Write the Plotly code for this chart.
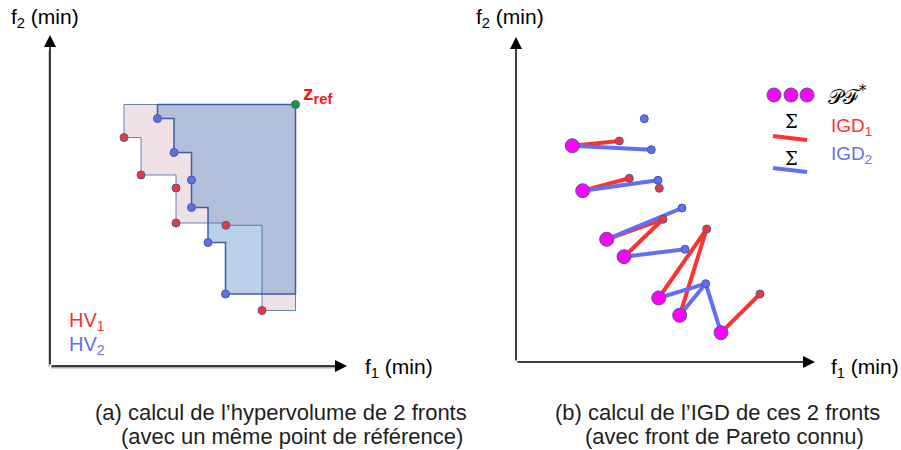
import plotly.graph_objects as go

# ---------------- data (units: arbitrary objective units) ----------------
# Panel (a): two fronts and the common reference point
hv1_f1 = [7.4, 9.1, 12.6, 12.6, 17.6, 21.2]
hv1_f2 = [22.85, 19.1, 17.8, 14.3, 14.07, 5.55]
hv2_f1 = [10.75, 12.4, 14.15, 14.15, 15.8, 17.55]
hv2_f2 = [24.75, 21.35, 18.6, 15.85, 12.35, 7.2]
zref_f1 = [24.55]
zref_f2 = [26.15]

# Panel (b): known Pareto front and the two fronts
pf_f1 = [5.63, 6.67, 9.07, 10.8, 14.27, 16.37, 20.5]
pf_f2 = [21.63, 17.13, 12.27, 10.53, 6.4, 4.67, 2.93]
f1_f1 = [10.33, 11.33, 14.33, 14.7, 19.07, 24.4]
f1_f2 = [22.1, 18.37, 17.37, 14.27, 13.3, 6.8]
f2_f1 = [12.83, 13.53, 14.2, 16.6, 16.9, 18.97]
f2_f2 = [24.33, 21.23, 18.17, 15.4, 11.27, 7.83]
# index of the front point linked to each Pareto point
red_link = [0, 1, 3, 3, 4, 4, 5]
blue_link = [1, 2, 3, 4, 5, 5, 5]

RED = "rgb(240,55,55)"
BLUE = "rgb(95,110,235)"
EDGE = "rgb(70,90,160)"
FONT = "Liberation Sans, Arial, sans-serif"


def nondominated(xs, ys):
    pts = list(zip(xs, ys))
    keep = []
    for i, (x, y) in enumerate(pts):
        dom = False
        for j, (u, v) in enumerate(pts):
            if j != i and u <= x and v <= y and (u < x or v < y):
                dom = True
        if not dom:
            keep.append((x, y))
    return sorted(keep)


def staircase(xs, ys, rx, ry):
    nd = nondominated(xs, ys)
    px, py = [nd[0][0]], [ry]
    for k, (x, y) in enumerate(nd):
        px.append(x)
        py.append(y)
        nx = nd[k + 1][0] if k + 1 < len(nd) else rx
        px.append(nx)
        py.append(y)
    px += [rx, nd[0][0]]
    py += [ry, ry]
    return px, py


fig = go.Figure()

# ---- panel (a) ----
p1x, p1y = staircase(hv1_f1, hv1_f2, zref_f1[0], zref_f2[0])
p2x, p2y = staircase(hv2_f1, hv2_f2, zref_f1[0], zref_f2[0])
fig.add_trace(go.Scatter(x=p1x, y=p1y, fill="toself", fillcolor="rgb(240,225,230)",
                         mode="none", xaxis="x", yaxis="y", hoverinfo="skip"))
fig.add_trace(go.Scatter(x=p2x, y=p2y, fill="toself", fillcolor="rgba(100,150,205,0.45)",
                         mode="none", xaxis="x", yaxis="y", hoverinfo="skip"))
fig.add_trace(go.Scatter(x=p1x, y=p1y, mode="lines", line=dict(color="rgba(60,95,160,0.75)", width=1),
                         xaxis="x", yaxis="y", hoverinfo="skip"))
fig.add_trace(go.Scatter(x=p2x, y=p2y, mode="lines", line=dict(color="rgb(60,95,160)", width=1.5),
                         xaxis="x", yaxis="y", hoverinfo="skip"))
fig.add_trace(go.Scatter(x=hv1_f1, y=hv1_f2, mode="markers",
                         marker=dict(size=8, color=RED, line=dict(color=EDGE, width=1)),
                         xaxis="x", yaxis="y"))
fig.add_trace(go.Scatter(x=hv2_f1, y=hv2_f2, mode="markers",
                         marker=dict(size=8, color=BLUE, line=dict(color=EDGE, width=1)),
                         xaxis="x", yaxis="y"))
fig.add_trace(go.Scatter(x=zref_f1, y=zref_f2, mode="markers",
                         marker=dict(size=8, color="rgb(30,150,60)", line=dict(color=EDGE, width=1)),
                         xaxis="x", yaxis="y"))

# ---- panel (b) ----
rx, ry, bx, by = [], [], [], []
for i in range(len(pf_f1)):
    r = red_link[i]
    rx += [pf_f1[i], f1_f1[r], None]
    ry += [pf_f2[i], f1_f2[r], None]
    b = blue_link[i]
    bx += [pf_f1[i], f2_f1[b], None]
    by += [pf_f2[i], f2_f2[b], None]
fig.add_trace(go.Scatter(x=rx, y=ry, mode="lines", line=dict(color="rgb(250,50,50)", width=4),
                         xaxis="x2", yaxis="y2", hoverinfo="skip"))
fig.add_trace(go.Scatter(x=bx, y=by, mode="lines", line=dict(color="rgb(100,110,240)", width=4),
                         xaxis="x2", yaxis="y2", hoverinfo="skip"))
fig.add_trace(go.Scatter(x=f1_f1, y=f1_f2, mode="markers",
                         marker=dict(size=8, color=RED, line=dict(color=EDGE, width=1)),
                         xaxis="x2", yaxis="y2"))
fig.add_trace(go.Scatter(x=f2_f1, y=f2_f2, mode="markers",
                         marker=dict(size=8, color=BLUE, line=dict(color=EDGE, width=1)),
                         xaxis="x2", yaxis="y2"))
fig.add_trace(go.Scatter(x=pf_f1, y=pf_f2, mode="markers",
                         marker=dict(size=14, color="rgb(255,0,255)", line=dict(color=EDGE, width=1)),
                         xaxis="x2", yaxis="y2"))

W, H = 901, 450
ax_common = dict(visible=False, showgrid=False, zeroline=False, fixedrange=True)
layout = dict(
    width=W, height=H, margin=dict(l=0, r=0, t=0, b=0),
    paper_bgcolor="white", plot_bgcolor="white", showlegend=False,
    xaxis=dict(domain=[0, 450 / W], range=[-5.0, 40.0], **ax_common),
    yaxis=dict(domain=[0, 1], range=[-8.4, 36.6], **ax_common),
    xaxis2=dict(domain=[450 / W, 1], range=[-6.6, 38.5], **ax_common),
    yaxis2=dict(domain=[0, 1], range=[-8.8, 36.2], **ax_common, anchor="x2"),
)
fig.update_layout(**layout)
fig.update_layout(xaxis2_anchor="y2")

shapes = []
# soft gray shadow along the axes of panel (a)
shapes.append(dict(type="line", xref="x", yref="y", x0=0.1, y0=-0.15, x1=29.0, y1=-0.15,
                   line=dict(color="rgba(120,120,120,0.6)", width=2), layer="below"))
shapes.append(dict(type="line", xref="x", yref="y", x0=-0.1, y0=-0.1, x1=-0.1, y1=31.5,
                   line=dict(color="rgba(120,120,120,0.35)", width=2), layer="below"))

ann = []
# axis arrows
def arrow(xr, yr, x, y, ax, ay):
    ann.append(dict(x=x, y=y, ax=ax, ay=ay, xref=xr, yref=yr, axref=xr, ayref=yr,
                    text="", showarrow=True, arrowhead=2, arrowsize=1.6, arrowwidth=1.5,
                    arrowcolor="black"))

arrow("x", "y", 0, 33.1, 0, 0)
arrow("x", "y", 29.7, 0, 0, 0)
arrow("x2", "y2", 0, 32.5, 0, 0)
arrow("x2", "y2", 29.9, 0, 0, 0)


def txt(x, y, s, size, color="black", xanchor="left", family=FONT):
    ann.append(dict(x=x / W, y=1 - y / H, xref="paper", yref="paper", text=s,
                    showarrow=False, xanchor=xanchor, yanchor="middle",
                    font=dict(size=size, color=color, family=family)))

txt(45, 18, "f<sub>2</sub> (min)", 21, xanchor="center")
txt(363, 368, "f<sub>1</sub> (min)", 21)
txt(510, 18, "f<sub>2</sub> (min)", 21, xanchor="center")
txt(829, 368, "f<sub>1</sub> (min)", 21)
txt(301, 94, "<b>z<sub>ref</sub></b>", 21, color="rgb(250,20,20)")
txt(67, 321, "HV<sub>1</sub>", 20, color="rgb(250,50,50)")
txt(67, 345, "HV<sub>2</sub>", 20, color="rgb(100,110,240)")
txt(93, 412, "(a) calcul de l’hypervolume de 2 fronts", 22, color="rgb(30,30,30)")
txt(119, 436, "(avec un même point de référence)", 22, color="rgb(30,30,30)")
txt(553, 412, "(b) calcul de l’IGD de ces 2 fronts", 22, color="rgb(30,30,30)")
txt(583, 436, "(avec front de Pareto connu)", 22, color="rgb(30,30,30)")
txt(826, 95, "𝒫ℱ<sup>*</sup>", 21, family="DejaVu Serif, serif")
txt(791, 121, "Σ", 18, xanchor="center", family="DejaVu Serif, serif")
txt(791, 159, "Σ", 18, xanchor="center", family="DejaVu Serif, serif")
txt(829, 127, "IGD<sub>1</sub>", 19, color="rgb(250,50,50)")
txt(829, 155, "IGD<sub>2</sub>", 19, color="rgb(100,110,240)")

for cx in (774, 791, 807):
    shapes.append(dict(type="circle", xref="paper", yref="paper",
                       x0=(cx - 7) / W, x1=(cx + 7) / W, y0=1 - (95 + 7) / H, y1=1 - (95 - 7) / H,
                       fillcolor="rgb(255,0,255)", line=dict(color=EDGE, width=1)))
shapes.append(dict(type="line", xref="paper", yref="paper", x0=773 / W, y0=1 - 136 / H,
                   x1=807 / W, y1=1 - 140 / H, line=dict(color="rgb(250,50,50)", width=4)))
shapes.append(dict(type="line", xref="paper", yref="paper", x0=773 / W, y0=1 - 168 / H,
                   x1=807 / W, y1=1 - 172 / H, line=dict(color="rgb(100,110,240)", width=4)))

fig.update_layout(annotations=ann, shapes=shapes)
fig.write_html("out.html")
